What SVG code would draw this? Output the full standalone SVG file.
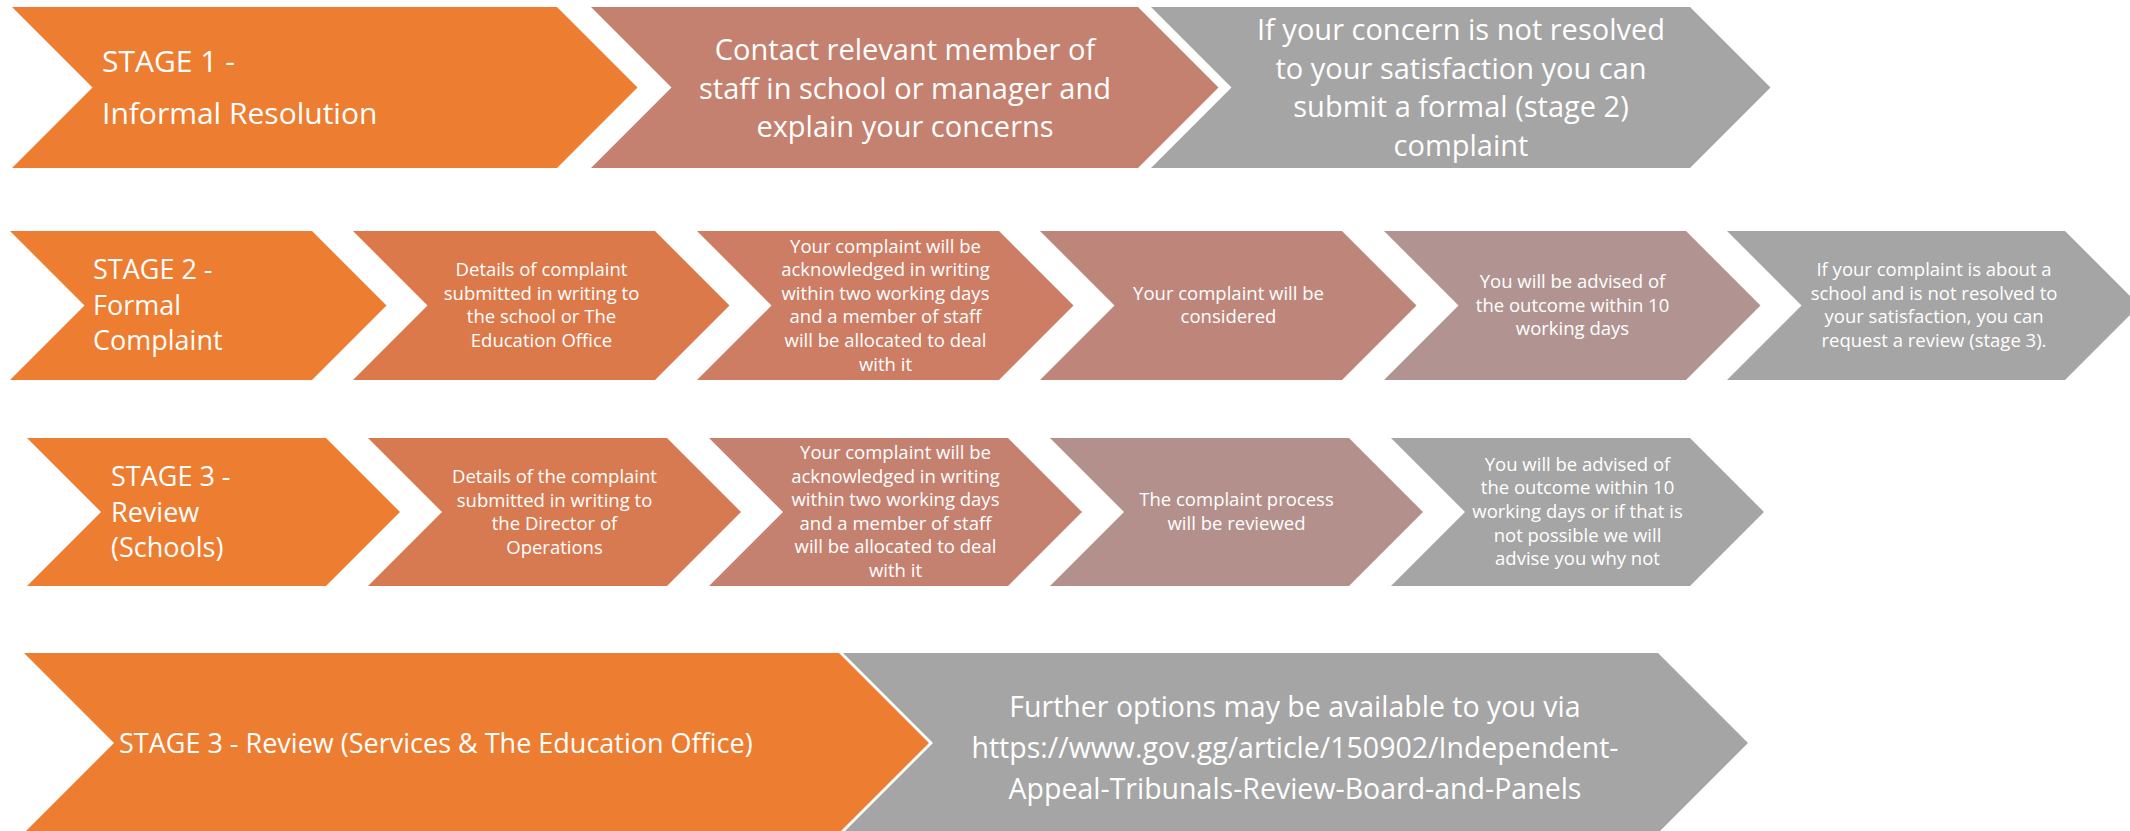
<svg xmlns="http://www.w3.org/2000/svg" width="2130" height="831" viewBox="0 0 2130 831">
<style>
text{font-family:"Open Sans","Liberation Sans",sans-serif;fill:#ffffff}
.big{font-size:29px;text-anchor:middle}
.stg{font-size:30px}
.stg2{font-size:27px}
.sm{font-size:18.5px;text-anchor:middle}
.url{font-size:28.5px;text-anchor:middle}
.c0{fill:#ED7D31}.c1{fill:#DC794B}.c2{fill:#CC7D64}.c3{fill:#BE867B}.c4{fill:#B19491}.c5{fill:#A5A5A5}
.r3a{fill:#D87A51}.r3b{fill:#C58170}.r3c{fill:#B4908C}
</style>
<rect x="0" y="0" width="2130" height="831" fill="#ffffff"/>
<g id="connectors"/>

<!-- Row 1 -->
<g id="stage1">
<polygon class="c0" points="12,7 557,7 637.5,87.5 557,168 12,168 92.5,87.5"/>
<text class="stg" x="102" y="72">STAGE 1 -</text>
<text class="stg" x="102" y="124">Informal Resolution</text>
</g>
<g id="stage1-contact">
<polygon class="r3b" points="591,7 1138,7 1218.5,87.5 1138,168 591,168 671.5,87.5"/>
<text class="big" x="905" y="60">Contact relevant member of</text>
<text class="big" x="905" y="98.5">staff in school or manager and</text>
<text class="big" x="905" y="137">explain your concerns</text>
</g>
<g id="stage1-unresolved">
<polygon class="c5" points="1151,7 1690,7 1770.5,87.5 1690,168 1151,168 1231.5,87.5"/>
<text class="big" x="1461" y="40">If your concern is not resolved</text>
<text class="big" x="1461" y="78.5">to your satisfaction you can</text>
<text class="big" x="1461" y="117">submit a formal (stage 2)</text>
<text class="big" x="1461" y="155.5">complaint</text>
</g>

<!-- Row 2 -->
<g id="stage2">
<polygon class="c0" points="10,231 312,231 386.5,305.5 312,380 10,380 84.5,305.5"/>
<text class="stg2" x="93" y="279">STAGE 2 -</text>
<text class="stg2" x="93" y="315">Formal</text>
<text class="stg2" x="93" y="350">Complaint</text>
</g>
<g id="stage2-details">
<polygon class="c1" points="353,231 655,231 729.5,305.5 655,380 353,380 427.5,305.5"/>
<text class="sm" x="541.5" y="276">Details of complaint</text>
<text class="sm" x="541.5" y="299.6">submitted in writing to</text>
<text class="sm" x="541.5" y="323.2">the school or The</text>
<text class="sm" x="541.5" y="346.8">Education Office</text>
</g>
<g id="stage2-ack">
<polygon class="c2" points="697,231 999,231 1073.5,305.5 999,380 697,380 771.5,305.5"/>
<text class="sm" x="885.5" y="252.5">Your complaint will be</text>
<text class="sm" x="885.5" y="276.1">acknowledged in writing</text>
<text class="sm" x="885.5" y="299.7">within two working days</text>
<text class="sm" x="885.5" y="323.3">and a member of staff</text>
<text class="sm" x="885.5" y="346.9">will be allocated to deal</text>
<text class="sm" x="885.5" y="370.5">with it</text>
</g>
<g id="stage2-considered">
<polygon class="c3" points="1040,231 1342,231 1416.5,305.5 1342,380 1040,380 1114.5,305.5"/>
<text class="sm" x="1228.5" y="299.7">Your complaint will be</text>
<text class="sm" x="1228.5" y="323.3">considered</text>
</g>
<g id="stage2-outcome">
<polygon class="c4" points="1384,231 1686,231 1760.5,305.5 1686,380 1384,380 1458.5,305.5"/>
<text class="sm" x="1572.5" y="287.9">You will be advised of</text>
<text class="sm" x="1572.5" y="311.5">the outcome within 10</text>
<text class="sm" x="1572.5" y="335.1">working days</text>
</g>
<g id="stage2-review">
<polygon class="c5" points="1727,231 2065,231 2139.5,305.5 2065,380 1727,380 1801.5,305.5"/>
<text class="sm" x="1934" y="276">If your complaint is about a</text>
<text class="sm" x="1934" y="299.6">school and is not resolved to</text>
<text class="sm" x="1934" y="323.2">your satisfaction, you can</text>
<text class="sm" x="1934" y="346.8">request a review (stage 3).</text>
</g>

<!-- Row 3 -->
<g id="stage3">
<polygon class="c0" points="27,438 326,438 400,512 326,586 27,586 101,512"/>
<text class="stg2" x="111" y="486">STAGE 3 -</text>
<text class="stg2" x="111" y="521.5">Review</text>
<text class="stg2" x="111" y="557">(Schools)</text>
</g>
<g id="stage3-details">
<polygon class="r3a" points="368,438 667,438 741,512 667,586 368,586 442,512"/>
<text class="sm" x="554.5" y="483">Details of the complaint</text>
<text class="sm" x="554.5" y="506.6">submitted in writing to</text>
<text class="sm" x="554.5" y="530.2">the Director of</text>
<text class="sm" x="554.5" y="553.8">Operations</text>
</g>
<g id="stage3-ack">
<polygon class="r3b" points="709,438 1008,438 1082,512 1008,586 709,586 783,512"/>
<text class="sm" x="895.5" y="459">Your complaint will be</text>
<text class="sm" x="895.5" y="482.6">acknowledged in writing</text>
<text class="sm" x="895.5" y="506.2">within two working days</text>
<text class="sm" x="895.5" y="529.8">and a member of staff</text>
<text class="sm" x="895.5" y="553.4">will be allocated to deal</text>
<text class="sm" x="895.5" y="577">with it</text>
</g>
<g id="stage3-reviewed">
<polygon class="r3c" points="1050,438 1349,438 1423,512 1349,586 1050,586 1124,512"/>
<text class="sm" x="1236.5" y="506.2">The complaint process</text>
<text class="sm" x="1236.5" y="529.8">will be reviewed</text>
</g>
<g id="stage3-outcome">
<polygon class="c5" points="1391,438 1690,438 1764,512 1690,586 1391,586 1465,512"/>
<text class="sm" x="1577.5" y="470.8">You will be advised of</text>
<text class="sm" x="1577.5" y="494.4">the outcome within 10</text>
<text class="sm" x="1577.5" y="518">working days or if that is</text>
<text class="sm" x="1577.5" y="541.6">not possible we will</text>
<text class="sm" x="1577.5" y="565.2">advise you why not</text>
</g>

<!-- Row 4 -->
<g id="stage3-services">
<polygon class="c0" points="24,653 839,653 929,743 839,833 24,833 114,743"/>
<text class="stg2" x="119" y="752.5">STAGE 3 - Review (Services &amp; The Education Office)</text>
</g>
<g id="further-options">
<polygon class="c5" points="843,653 1658,653 1748,743 1658,833 843,833 933,743"/>
<text class="url" x="1295" y="717">Further options may be available to you via</text>
<text class="url" x="1295" y="758">https://www.gov.gg/article/150902/Independent-</text>
<text class="url" x="1295" y="799">Appeal-Tribunals-Review-Board-and-Panels</text>
</g>
</svg>
